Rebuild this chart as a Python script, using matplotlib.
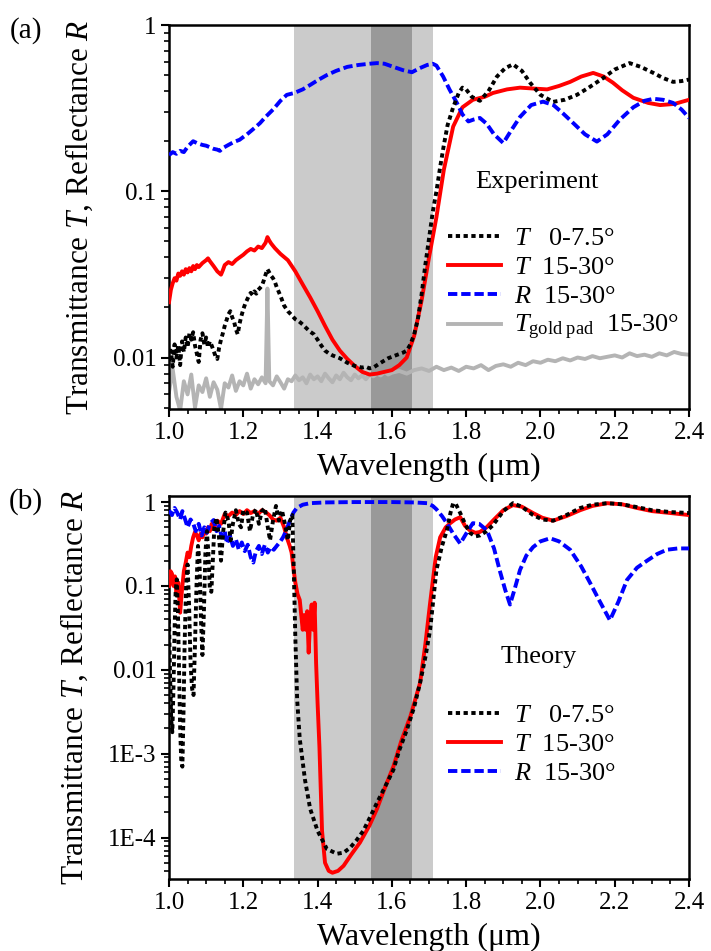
import matplotlib
matplotlib.use("Agg")
import matplotlib.pyplot as plt
from matplotlib.ticker import MultipleLocator, LogLocator, NullFormatter

plt.rcParams['font.family'] = ['Liberation Serif', 'DejaVu Serif']
plt.rcParams['mathtext.fontset'] = 'custom'
plt.rcParams['mathtext.rm'] = 'Liberation Serif'
plt.rcParams['mathtext.it'] = 'Liberation Serif:italic'

# ---------------- data: panel (a) experiment ----------------
exp_T0_wl = [1.000,1.005,1.010,1.015,1.020,1.025,1.030,1.035,1.040,1.045,1.050,1.055,1.060,1.065,1.070,1.075,1.080,1.085,1.090,1.095,
             1.100,1.105,1.110,1.115,1.120,1.125,1.130,1.135,1.140,1.145,1.150,1.155,1.160,1.165,1.170,1.175,1.180,1.185,1.190,1.195,
             1.200,1.205,1.210,1.215,1.220,1.225,1.230,1.235,1.240,1.245,1.250,1.255,1.260,1.265,1.270,1.275,1.280,1.285,1.290,1.300,
             1.310,1.320,1.330,1.340,1.350,1.360,1.370,1.380,1.390,1.400,1.410,1.420,1.430,1.440,1.450,1.460,1.470,1.480,1.490,1.500,
             1.510,1.520,1.530,1.540,1.550,1.560,1.570,1.580,1.590,1.600,1.610,1.620,1.630,1.640,1.650,1.660,1.670,1.680,1.690,1.700,
             1.710,1.720,1.730,1.740,1.750,1.765,1.780,1.790,1.800,1.815,1.837,1.860,1.883,1.905,1.926,1.950,1.972,2.000,2.034,2.065,
             2.098,2.130,2.169,2.200,2.240,2.270,2.304,2.330,2.357,2.380,2.400]
exp_T0 = [0.0095,0.0110,0.0088,0.0120,0.0100,0.0118,0.0090,0.0125,0.0108,0.0132,0.0115,0.0140,0.0128,0.0142,0.0118,0.0105,0.0094,0.0128,0.0140,0.0120,
          0.0132,0.0115,0.0125,0.0118,0.0110,0.0102,0.0098,0.0115,0.0128,0.0140,0.0155,0.0168,0.0182,0.0190,0.0175,0.0165,0.0148,0.0138,0.0160,0.0178,
          0.0195,0.0210,0.0222,0.0235,0.0245,0.0238,0.0250,0.0242,0.0255,0.0262,0.0270,0.0290,0.0315,0.0340,0.0325,0.0310,0.0300,0.0285,0.0265,0.0235,
          0.0205,0.0190,0.0180,0.0170,0.0165,0.0158,0.0150,0.0143,0.0138,0.0128,0.0118,0.0110,0.0106,0.0103,0.0101,0.0099,0.0096,0.0093,0.0091,0.0089,
          0.0088,0.0087,0.0088,0.0086,0.0087,0.0090,0.0093,0.0096,0.0099,0.0101,0.0103,0.0105,0.0107,0.0110,0.0120,0.0138,0.0170,0.0240,0.0360,0.0520,
          0.0750,0.1000,0.1400,0.1900,0.2500,0.3200,0.3900,0.4200,0.4100,0.3700,0.3500,0.4000,0.4900,0.5500,0.5800,0.5300,0.4500,0.3800,0.3450,0.3550,
          0.3800,0.4200,0.4800,0.5400,0.5900,0.5600,0.5150,0.4800,0.4550,0.4600,0.4700]

exp_T15_wl = [1.000,1.005,1.010,1.015,1.020,1.025,1.030,1.035,1.040,1.045,1.050,1.055,1.060,1.065,1.070,1.075,1.080,1.090,1.100,1.105,
              1.110,1.120,1.130,1.140,1.145,1.150,1.160,1.170,1.180,1.190,1.200,1.210,1.220,1.230,1.240,1.250,1.260,1.265,1.270,1.275,
              1.285,1.300,1.320,1.340,1.360,1.380,1.400,1.420,1.440,1.460,1.480,1.500,1.520,1.540,1.560,1.580,1.600,1.620,1.640,1.660,
              1.680,1.700,1.720,1.740,1.765,1.790,1.818,1.850,1.872,1.910,1.945,1.980,2.018,2.050,2.080,2.110,2.142,2.170,2.195,2.220,
              2.250,2.290,2.322,2.360,2.400]
exp_T15 = [0.0215,0.0255,0.0280,0.0300,0.0290,0.0320,0.0310,0.0330,0.0315,0.0340,0.0325,0.0345,0.0330,0.0355,0.0340,0.0360,0.0350,0.0370,0.0385,0.0395,
           0.0380,0.0355,0.0330,0.0315,0.0335,0.0360,0.0375,0.0365,0.0385,0.0400,0.0415,0.0435,0.0450,0.0440,0.0465,0.0455,0.0490,0.0530,0.0505,0.0485,
           0.0455,0.0420,0.0385,0.0330,0.0275,0.0230,0.0190,0.0155,0.0128,0.0110,0.0098,0.0089,0.0082,0.0079,0.0080,0.0082,0.0084,0.0090,0.0100,0.0135,
           0.0220,0.0400,0.0700,0.1350,0.2450,0.3200,0.3550,0.3700,0.3900,0.4100,0.4200,0.4150,0.4100,0.4300,0.4550,0.4900,0.5150,0.4900,0.4500,0.4050,
           0.3650,0.3400,0.3300,0.3350,0.3550]

exp_R15_wl = [1.000,1.010,1.020,1.030,1.040,1.050,1.060,1.065,1.075,1.090,1.100,1.110,1.120,1.130,1.137,1.145,1.160,1.175,1.190,1.200,
              1.210,1.230,1.245,1.260,1.280,1.300,1.317,1.337,1.360,1.380,1.400,1.425,1.450,1.480,1.510,1.540,1.560,1.580,1.604,1.630,
              1.654,1.675,1.695,1.710,1.720,1.738,1.755,1.775,1.790,1.806,1.820,1.837,1.855,1.875,1.900,1.920,1.945,1.975,2.007,2.035,
              2.060,2.090,2.120,2.152,2.180,2.214,2.250,2.280,2.304,2.330,2.357,2.380,2.400]
exp_R15 = [0.165,0.172,0.168,0.175,0.172,0.185,0.195,0.200,0.195,0.190,0.188,0.184,0.180,0.178,0.175,0.182,0.190,0.198,0.204,0.212,
           0.220,0.240,0.257,0.280,0.310,0.350,0.380,0.390,0.410,0.436,0.465,0.500,0.530,0.560,0.575,0.585,0.590,0.585,0.560,0.535,
           0.520,0.550,0.575,0.585,0.570,0.490,0.410,0.340,0.290,0.263,0.270,0.276,0.255,0.220,0.195,0.230,0.280,0.330,0.346,0.330,
           0.295,0.255,0.220,0.199,0.220,0.270,0.320,0.350,0.360,0.355,0.340,0.310,0.276]

exp_gold_wl = [1.00,1.01,1.02,1.03,1.04,1.05,1.06,1.07,1.08,1.09,1.10,1.11,1.12,1.13,1.14,1.15,1.16,1.17,1.18,1.19,
               1.20,1.21,1.22,1.23,1.24,1.25,1.26,1.265,1.27,1.28,1.29,1.30,1.31,1.32,1.33,1.34,1.35,1.36,1.37,1.38,
               1.39,1.40,1.41,1.42,1.43,1.44,1.45,1.46,1.47,1.48,1.49,1.50,1.51,1.52,1.53,1.54,1.55,1.56,1.57,1.58,
               1.59,1.60,1.62,1.64,1.66,1.68,1.70,1.72,1.74,1.76,1.78,1.80,1.82,1.84,1.86,1.88,1.90,1.92,1.94,1.96,
               1.98,2.00,2.02,2.04,2.06,2.08,2.10,2.12,2.14,2.16,2.18,2.20,2.22,2.24,2.26,2.28,2.30,2.32,2.34,2.36,
               2.38,2.40]
exp_gold = [0.0062,0.0085,0.0058,0.0048,0.0072,0.0060,0.0079,0.0050,0.0068,0.0062,0.0075,0.0058,0.0071,0.0064,0.0049,0.0070,0.0066,0.0078,0.0063,0.0072,
            0.0068,0.0080,0.0065,0.0074,0.0069,0.0076,0.0070,0.0260,0.0072,0.0068,0.0077,0.0071,0.0065,0.0074,0.0072,0.0078,0.0073,0.0076,0.0070,0.0079,
            0.0074,0.0077,0.0072,0.0080,0.0075,0.0071,0.0078,0.0074,0.0081,0.0076,0.0073,0.0079,0.0075,0.0078,0.0074,0.0079,0.0077,0.0080,0.0078,0.0082,
            0.0079,0.0081,0.0083,0.0080,0.0084,0.0086,0.0083,0.0088,0.0084,0.0087,0.0083,0.0088,0.0086,0.0090,0.0084,0.0089,0.0091,0.0088,0.0093,0.0090,
            0.0095,0.0093,0.0097,0.0095,0.0099,0.0096,0.0100,0.0098,0.0102,0.0099,0.0101,0.0103,0.0100,0.0106,0.0102,0.0104,0.0101,0.0106,0.0103,0.0108,
            0.0105,0.0104]

# ---------------- data: panel (b) theory ----------------
th_T0_wl = [1.000,1.003,1.006,1.009,1.012,1.015,1.018,1.021,1.024,1.027,1.030,1.033,1.036,1.039,1.042,1.046,1.050,1.054,1.058,1.062,
            1.066,1.070,1.074,1.078,1.082,1.086,1.090,1.094,1.098,1.102,1.106,1.110,1.114,1.118,1.122,1.128,1.134,1.140,1.146,1.152,
            1.160,1.166,1.172,1.180,1.188,1.194,1.200,1.210,1.218,1.226,1.234,1.242,1.250,1.258,1.266,1.272,1.280,1.288,1.296,1.304,
            1.312,1.320,1.326,1.332,1.336,1.340,1.345,1.352,1.366,1.380,1.400,1.425,1.452,1.470,1.487,1.505,1.523,1.540,1.560,1.580,
            1.604,1.620,1.640,1.660,1.676,1.690,1.703,1.720,1.735,1.748,1.758,1.765,1.772,1.784,1.797,1.810,1.825,1.837,1.855,1.872,
            1.900,1.926,1.950,1.980,2.005,2.034,2.070,2.107,2.140,2.180,2.220,2.260,2.300,2.350,2.400]
th_T0 = [0.040,0.008,0.0025,0.0018,0.006,0.03,0.09,0.12,0.05,0.01,0.002,0.0008,0.0007,0.003,0.02,0.10,0.18,0.06,0.012,0.006,
         0.005,0.02,0.10,0.30,0.20,0.04,0.015,0.05,0.25,0.45,0.25,0.09,0.085,0.20,0.50,0.65,0.40,0.20,0.45,0.75,
         0.60,0.35,0.55,0.80,0.55,0.50,0.80,0.75,0.45,0.70,0.82,0.55,0.78,0.85,0.50,0.35,0.60,0.90,0.60,0.80,
         0.55,0.35,0.60,0.70,0.15,0.025,0.0044,0.0015,0.00049,0.00022,0.00012,7.3e-5,6.4e-5,6.6e-5,7.5e-5,9.3e-5,1.2e-4,1.7e-4,2.6e-4,3.9e-4,
         6.4e-4,1.1e-3,1.9e-3,3.6e-3,7.0e-3,0.014,0.030,0.155,0.30,0.46,0.75,0.97,0.95,0.74,0.55,0.43,0.39,0.40,0.45,0.53,
         0.78,0.97,0.88,0.70,0.62,0.60,0.70,0.85,0.93,0.97,0.94,0.87,0.80,0.76,0.74]

th_T15_wl = [1.000,1.004,1.008,1.012,1.016,1.020,1.025,1.030,1.035,1.040,1.045,1.050,1.055,1.060,1.065,1.070,1.075,1.080,1.085,1.090,
             1.095,1.100,1.105,1.110,1.115,1.120,1.130,1.140,1.150,1.160,1.170,1.180,1.190,1.200,1.210,1.220,1.230,1.240,1.250,1.260,
             1.270,1.280,1.290,1.300,1.310,1.317,1.325,1.330,1.336,1.340,1.346,1.352,1.356,1.360,1.364,1.368,1.372,1.376,1.380,1.384,
             1.388,1.392,1.396,1.400,1.405,1.412,1.420,1.430,1.440,1.455,1.470,1.490,1.514,1.540,1.560,1.580,1.604,1.625,1.650,1.676,
             1.690,1.703,1.718,1.730,1.745,1.757,1.770,1.784,1.797,1.810,1.825,1.837,1.855,1.872,1.900,1.926,1.950,1.980,2.005,2.034,
             2.070,2.107,2.140,2.180,2.220,2.260,2.300,2.350,2.400]
th_T15 = [0.10,0.15,0.14,0.10,0.13,0.08,0.11,0.048,0.09,0.15,0.19,0.25,0.22,0.30,0.38,0.44,0.40,0.35,0.42,0.38,
          0.45,0.42,0.50,0.45,0.55,0.48,0.60,0.55,0.72,0.68,0.75,0.70,0.78,0.72,0.80,0.74,0.78,0.72,0.80,0.76,
          0.70,0.62,0.60,0.65,0.50,0.38,0.30,0.25,0.15,0.11,0.08,0.068,0.045,0.030,0.045,0.030,0.050,0.016,0.040,0.060,
          0.030,0.063,0.012,0.004,0.0012,0.00012,5.0e-5,4.0e-5,3.8e-5,4.0e-5,4.6e-5,6.2e-5,8.7e-5,1.4e-4,2.2e-4,3.8e-4,7.0e-4,1.4e-3,2.8e-3,7.0e-3,
          0.020,0.063,0.22,0.38,0.50,0.56,0.62,0.66,0.52,0.46,0.43,0.44,0.50,0.60,0.80,0.92,0.88,0.74,0.65,0.60,
          0.68,0.80,0.90,0.97,0.94,0.85,0.78,0.74,0.70]

th_R15_wl = [1.000,1.008,1.015,1.022,1.030,1.036,1.042,1.050,1.058,1.065,1.072,1.080,1.088,1.095,1.102,1.110,1.120,1.128,1.135,1.142,
             1.150,1.156,1.164,1.172,1.180,1.188,1.196,1.204,1.212,1.220,1.227,1.234,1.242,1.250,1.258,1.266,1.274,1.282,1.290,1.300,
             1.307,1.315,1.326,1.335,1.344,1.360,1.380,1.420,1.500,1.600,1.660,1.695,1.710,1.720,1.735,1.748,1.765,1.784,1.800,1.818,
             1.835,1.856,1.875,1.890,1.905,1.918,1.930,1.945,1.962,1.980,2.000,2.026,2.050,2.080,2.110,2.134,2.160,2.187,2.210,2.233,
             2.260,2.287,2.314,2.340,2.370,2.400]
th_R15 = [0.80,0.70,0.85,0.75,0.62,0.78,0.65,0.50,0.62,0.56,0.45,0.55,0.40,0.50,0.43,0.55,0.61,0.45,0.52,0.38,
          0.45,0.32,0.40,0.30,0.36,0.27,0.33,0.26,0.31,0.22,0.19,0.26,0.30,0.24,0.31,0.25,0.29,0.27,0.30,0.34,
          0.38,0.45,0.61,0.75,0.85,0.93,0.97,0.99,1.00,1.00,0.99,0.97,0.90,0.82,0.68,0.56,0.42,0.32,0.42,0.56,
          0.55,0.46,0.28,0.155,0.09,0.060,0.09,0.155,0.23,0.29,0.34,0.37,0.34,0.27,0.17,0.108,0.065,0.039,0.065,0.118,
          0.165,0.20,0.24,0.27,0.28,0.28]

# shaded bands (wavelength limits, um)
light_band = [1.337, 1.711]
dark_band = [1.544, 1.654]

x_ticks = [1.0, 1.2, 1.4, 1.6, 1.8, 2.0, 2.2, 2.4]
y_ticks_a = [0.01, 0.1, 1]
y_labels_a = ['0.01', '0.1', '1']
y_ticks_b = [1e-4, 1e-3, 0.01, 0.1, 1]
y_labels_b = ['1E-4', '1E-3', '0.01', '0.1', '1']

lab_T0 = r'$T$   0-7.5°'
lab_T15 = r'$T$  15-30°'
lab_R15 = r'$R$  15-30°'
lab_gold = r'$T_{\mathrm{gold\ pad}}$  15-30°'

# ---------------- figure ----------------
fig = plt.figure(figsize=(7.11, 9.51), dpi=100)
ax1 = fig.add_axes([0.2377, 0.5699, 0.7314, 0.4038])
ax2 = fig.add_axes([0.2377, 0.0757, 0.7314, 0.4027])

lw = 2.8
dot = (0, (1.1, 0.9))
dash = (0, (2.4, 1.0))

def style(ax, ylim, yt, yl):
    ax.axvspan(*light_band, color='#cbcbcb', lw=0, zorder=0)
    ax.axvspan(*dark_band, color='#999999', lw=0, zorder=0)
    ax.set_yscale('log')
    ax.set_xlim(1.0, 2.4)
    ax.set_ylim(*ylim)
    ax.set_xticks(x_ticks)
    ax.set_xticklabels(['%.1f' % v for v in x_ticks])
    ax.xaxis.set_minor_locator(MultipleLocator(0.05))
    ax.set_yticks(yt)
    ax.set_yticklabels(yl)
    ax.yaxis.set_minor_locator(LogLocator(base=10, subs=range(2, 10), numticks=20))
    ax.yaxis.set_minor_formatter(NullFormatter())
    ax.tick_params(which='major', direction='out', length=6, width=1.5, labelsize=18, pad=3)
    ax.tick_params(which='minor', direction='out', length=3.5, width=1.2)
    ax.tick_params(top=False, right=False, which='both')
    for s in ax.spines.values():
        s.set_linewidth(1.8)
    ax.set_xlabel('Wavelength (μm)', fontsize=23, labelpad=7)
    ax.set_ylabel(r'Transmittance $T$, Reflectance $R$', fontsize=22.5, labelpad=13)

# panel (a)
ax1.plot(exp_gold_wl, exp_gold, color='#b4b4b4', lw=lw, label=lab_gold, zorder=2)
ax1.plot(exp_T15_wl, exp_T15, color='#ff0000', lw=lw, label=lab_T15, zorder=3)
ax1.plot(exp_R15_wl, exp_R15, color='#0000ff', lw=lw, ls=dash, label=lab_R15, zorder=3)
ax1.plot(exp_T0_wl, exp_T0, color='black', lw=lw, ls=dot, label=lab_T0, zorder=4)
style(ax1, (0.0049, 1.0), y_ticks_a, y_labels_a)
h, l = ax1.get_legend_handles_labels()
order = [3, 1, 2, 0]
ax1.legend([h[i] for i in order], [l[i] for i in order], loc='upper left',
           bbox_to_anchor=(0.537, 0.474), frameon=False, fontsize=19,
           handlelength=2.0, handletextpad=0.5, labelspacing=0.2, borderpad=0, borderaxespad=0)
ax1.text(0.708, 0.591, 'Experiment', transform=ax1.transAxes, fontsize=19, ha='center', va='center')

# panel (b)
ax2.plot(th_T15_wl, th_T15, color='#ff0000', lw=lw, label=lab_T15, zorder=3)
ax2.plot(th_R15_wl, th_R15, color='#0000ff', lw=lw, ls=dash, label=lab_R15, zorder=3)
ax2.plot(th_T0_wl, th_T0, color='black', lw=lw, ls=dot, label=lab_T0, zorder=4)
style(ax2, (3.2e-5, 1.18), y_ticks_b, y_labels_b)
h, l = ax2.get_legend_handles_labels()
order = [2, 0, 1]
ax2.legend([h[i] for i in order], [l[i] for i in order], loc='upper left',
           bbox_to_anchor=(0.537, 0.457), frameon=False, fontsize=19,
           handlelength=2.0, handletextpad=0.5, labelspacing=0.2, borderpad=0, borderaxespad=0)
ax2.text(0.71, 0.58, 'Theory', transform=ax2.transAxes, fontsize=19, ha='center', va='center')

fig.text(26/711, 1 - 31/951, '(a)', fontsize=21, ha='center', va='center')
fig.text(26/711, 1 - 502/951, '(b)', fontsize=21, ha='center', va='center')

fig.savefig('out.png', dpi=100)
